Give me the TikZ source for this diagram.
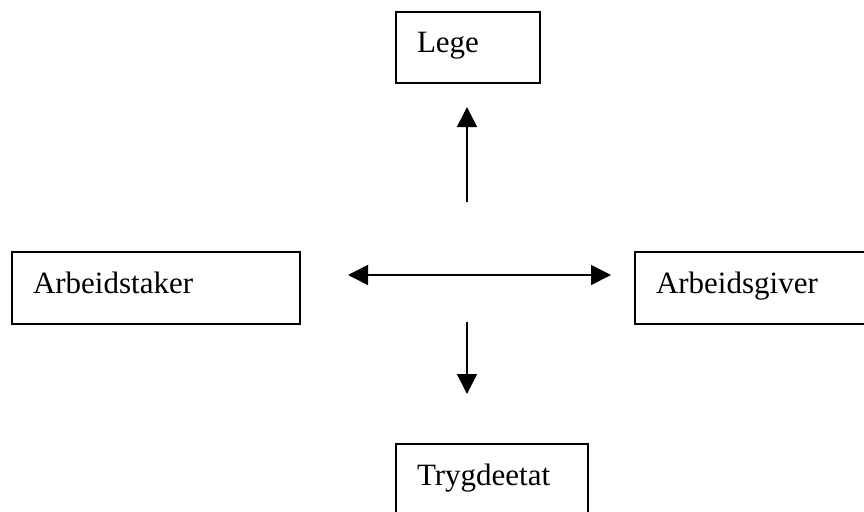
\documentclass[tikz,border=0pt]{standalone}
\usepackage{fontspec}
\setmainfont{Liberation Serif}
\usetikzlibrary{arrows.meta}

\tikzset{
  party/.style={draw=black, line width=2pt, rectangle, anchor=north west,
    inner xsep=21pt, inner ysep=0pt, align=left,
    font=\fontsize{31}{37}\selectfont, text height=21pt, text depth=11pt},
  flow/.style={line width=1.5pt, -{Triangle[length=20pt,width=20pt]}},
  bothflow/.style={line width=1.5pt, {Triangle[length=20pt,width=20pt]}-{Triangle[length=20pt,width=20pt]}}
}

\begin{document}
\begin{tikzpicture}[x=1pt, y=-1pt]
  \useasboundingbox (0,0) rectangle (864,511);

  % the four parties
  \node[party, minimum width=144pt, minimum height=71pt, text width=102pt] (lege) at (395,11) {Lege};
  \node[party, minimum width=288pt, minimum height=72pt, text width=246pt] (taker) at (11,251) {Arbeidstaker};
  \node[party, minimum width=256pt, minimum height=72pt, text width=214pt] (giver) at (634,251) {Arbeidsgiver};
  \node[party, minimum width=192pt, minimum height=72pt, text width=150pt] (trygd) at (395,443) {Trygdeetat};

  % free ends of the arrows
  \coordinate (upfrom) at (467,202);
  \coordinate (upto) at (467,107);
  \coordinate (leftend) at (348,275);
  \coordinate (rightend) at (611,275);
  \coordinate (downfrom) at (467,322);
  \coordinate (downto) at (467,394);

  \draw[flow] (upfrom) -- (upto);
  \draw[bothflow] (leftend) -- (rightend);
  \draw[flow] (downfrom) -- (downto);
\end{tikzpicture}
\end{document}
